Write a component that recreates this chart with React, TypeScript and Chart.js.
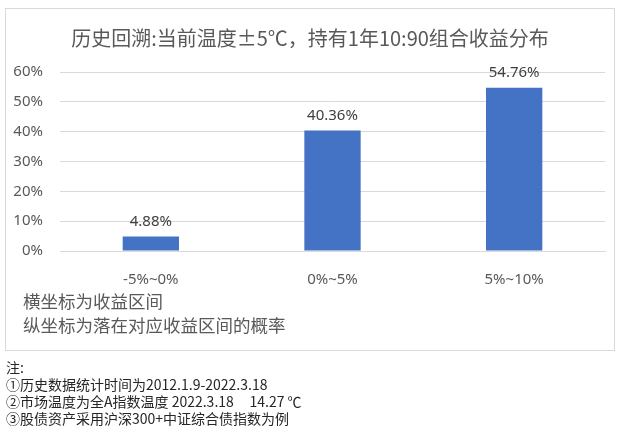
import React, { useEffect, useRef } from "react";
import { Chart, registerables } from "chart.js";

Chart.register(...registerables);

const categories = ["-5%~0%", "0%~5%", "5%~10%"];
const probabilities = [4.88, 40.36, 54.76];
const yTicks = [0, 10, 20, 30, 40, 50, 60];
const titleText = "历史回溯:当前温度±5℃，持有1年10:90组合收益分布";
const axisNotes = ["横坐标为收益区间", "纵坐标为落在对应收益区间的概率"];
const footNotes = [
  "注:",
  "①历史数据统计时间为2012.1.9-2022.3.18",
  "②市场温度为全A指数温度 2022.3.18     14.27 ℃",
  "③股债资产采用沪深300+中证综合债指数为例",
];

const FONT = '"Noto Sans", "Noto Sans CJK SC", sans-serif';
const CJK = '"Noto Sans CJK SC", "Noto Sans", sans-serif';

const decorPlugin = {
  id: "decor",
  beforeDraw(chart: any) {
    const ctx = chart.ctx;
    ctx.save();
    ctx.fillStyle = "#ffffff";
    ctx.fillRect(0, 0, chart.width, chart.height);
    ctx.strokeStyle = "#d9d9d9";
    ctx.lineWidth = 1;
    ctx.strokeRect(5.5, 8.5, 609, 342);
    ctx.fillStyle = "#595959";
    ctx.font = `20px ${CJK}`;
    ctx.textAlign = "center";
    ctx.textBaseline = "middle";
    ctx.fillText(titleText, 310, 38);
    ctx.font = `17.5px ${CJK}`;
    ctx.textAlign = "left";
    axisNotes.forEach((t, i) => ctx.fillText(t, 23, 301 + i * 24));
    ctx.fillStyle = "#262626";
    ctx.font = `14px ${CJK}`;
    footNotes.forEach((t, i) => ctx.fillText(t, 6, 368 + i * 17));
    ctx.restore();
  },
  afterDatasetsDraw(chart: any) {
    const ctx = chart.ctx;
    const meta = chart.getDatasetMeta(0);
    ctx.save();
    ctx.fillStyle = "#404040";
    ctx.font = `15px ${FONT}`;
    ctx.textAlign = "center";
    ctx.textBaseline = "middle";
    meta.data.forEach((el: any, i: number) => {
      ctx.fillText(probabilities[i].toFixed(2) + "%", el.x, el.y - 15);
    });
    ctx.restore();
  },
};

export default function App() {
  const ref = useRef<HTMLCanvasElement>(null);
  useEffect(() => {
    document.body.style.margin = "0";
    const chart = new Chart(ref.current!, {
      type: "bar",
      data: {
        labels: categories,
        datasets: [
          {
            data: probabilities,
            backgroundColor: "#4472C4",
            categoryPercentage: 1,
            barPercentage: 0.31,
          },
        ],
      },
      options: {
        responsive: false,
        animation: false,
        layout: { padding: { top: 72, right: 19, bottom: 143, left: 0 } },
        plugins: { legend: { display: false }, tooltip: { enabled: false }, title: { display: false } },
        scales: {
          x: {
            grid: { display: false },
            border: { color: "#d9d9d9" },
            ticks: { color: "#595959", font: { size: 15, family: FONT }, padding: 12 },
            afterFit: (s: any) => { s.height = 40; },
          },
          y: {
            min: 0,
            max: 60,
            afterBuildTicks: (s: any) => { s.ticks = yTicks.map((v) => ({ value: v })); },
            grid: { color: "#d9d9d9", drawTicks: false },
            border: { display: false },
            ticks: {
              color: "#595959",
              font: { size: 15, family: FONT },
              padding: 17,
              callback: (v: any) => v + "%",
            },
            afterFit: (s: any) => { s.width = 60; },
          },
        },
      },
      plugins: [decorPlugin],
    });
    return () => chart.destroy();
  }, []);
  return (
    <div style={{ position: "absolute", left: 0, top: 0, width: 624, height: 434 }}>
      <canvas ref={ref} width={624} height={434} style={{ width: 624, height: 434 }} />
    </div>
  );
}
